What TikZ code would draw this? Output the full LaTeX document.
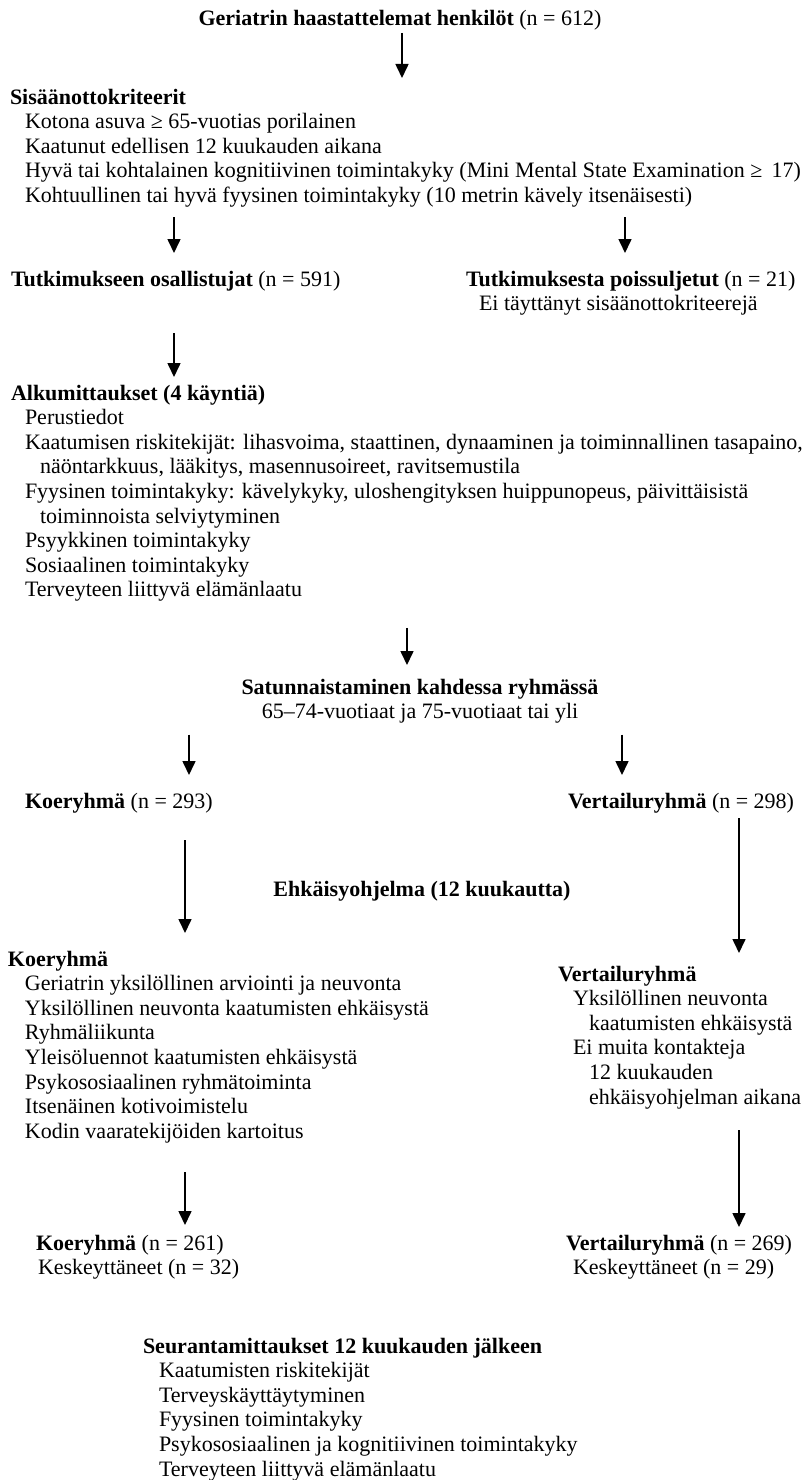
\documentclass[tikz,border=0pt]{standalone}
\usepackage{fontspec}
\setmainfont{Liberation Serif}
\usetikzlibrary{calc,arrows.meta}
% struts that fix the top and bottom of every text block
\newcommand\tp{\rule{0pt}{18pt}}
\newcommand\bt{\rule[-6pt]{0pt}{6pt}}
\newcommand\ind[1]{\hspace*{#1pt}}
% vertical arrow at the column of #5, from #1 (+#2) down to #3 (+#4)
\newcommand\flowarrow[5]{\draw[arr] ($(#1 -| #5)+(0,#2)$) -- ($(#3 -| #5)+(0,#4)$);}

\begin{document}
\begin{tikzpicture}[x=1pt,y=-1pt,
  txt/.style={inner sep=0pt, outer sep=0pt, anchor=north west, align=left,
    font=\fontsize{22}{24.6}\selectfont},
  ctxt/.style={txt, anchor=north, align=center},
  arr/.style={line width=1.6pt, -{Triangle[width=13pt,length=14pt]}}]
\useasboundingbox (0,0) rectangle (803,1480);

% arrow columns
\coordinate (xa) at (402,0);
\coordinate (xb) at (174,0);
\coordinate (xc) at (625,0);
\coordinate (xd) at (407,0);
\coordinate (xe) at (189,0);
\coordinate (xf) at (622,0);
\coordinate (xg) at (185,0);
\coordinate (xh) at (739,0);

\node[ctxt] (title) at (400,8) {\tp\textbf{Geriatrin haastattelemat henkilöt} (n = 612)\bt};

\node[txt] (crit) at (10,86) {\tp\textbf{Sisäänottokriteerit}\\
\ind{15}Kotona asuva ≥ 65-vuotias porilainen\\
\ind{15}Kaatunut edellisen 12 kuukauden aikana\\
\ind{15}Hyvä tai kohtalainen kognitiivinen toimintakyky (Mini Mental State Examination ≥ \,17)\\
\ind{15}Kohtuullinen tai hyvä fyysinen toimintakyky (10 metrin kävely itsenäisesti)\bt};

\node[txt] (tut) at (11,268) {\tp\textbf{Tutkimukseen osallistujat} (n = 591)\bt};
\node[txt] (excl) at (466,268) {\tp\textbf{Tutkimuksesta poissuljetut} (n = 21)\\
\ind{13}Ei täyttänyt sisäänottokriteerejä\bt};

\node[txt] (alk) at (11,382) {\tp\textbf{Alkumittaukset (4 käyntiä)}\\
\ind{14}Perustiedot\\
\ind{14}Kaatumisen riskitekijät: lihasvoima, staattinen, dynaaminen ja toiminnallinen tasapaino,\\
\ind{29}näöntarkkuus, lääkitys, masennusoireet, ravitsemustila\\
\ind{14}Fyysinen toimintakyky: kävelykyky, uloshengityksen huippunopeus, päivittäisistä\\
\ind{29}toiminnoista selviytyminen\\
\ind{14}Psyykkinen toimintakyky\\
\ind{14}Sosiaalinen toimintakyky\\
\ind{14}Terveyteen liittyvä elämänlaatu\bt};

\node[ctxt] (rand) at (420,676) {\tp\textbf{Satunnaistaminen kahdessa ryhmässä}\\
65–74-vuotiaat ja 75-vuotiaat tai yli\bt};

\node[txt] (kg1) at (25,790) {\tp\textbf{Koeryhmä} (n = 293)\bt};
\node[txt] (vg1) at (568,790) {\tp\textbf{Vertailuryhmä} (n = 298)\bt};

\node[ctxt] (ehk) at (422,878) {\tp\textbf{Ehkäisyohjelma (12 kuukautta)}\bt};

\node[txt] (kg2) at (8,948) {\tp\textbf{Koeryhmä}\\
\ind{17}Geriatrin yksilöllinen arviointi ja neuvonta\\
\ind{17}Yksilöllinen neuvonta kaatumisten ehkäisystä\\
\ind{17}Ryhmäliikunta\\
\ind{17}Yleisöluennot kaatumisten ehkäisystä\\
\ind{17}Psykososiaalinen ryhmätoiminta\\
\ind{17}Itsenäinen kotivoimistelu\\
\ind{17}Kodin vaaratekijöiden kartoitus\bt};

\node[txt] (vg2) at (558,963) {\tp\textbf{Vertailuryhmä}\\
\ind{15}Yksilöllinen neuvonta\\
\ind{31}kaatumisten ehkäisystä\\
\ind{15}Ei muita kontakteja\\
\ind{31}12 kuukauden\\
\ind{31}ehkäisyohjelman aikana\bt};

\node[txt] (kg3) at (36,1232) {\tp\textbf{Koeryhmä} (n = 261)\\
\ind{2}Keskeyttäneet (n = 32)\bt};
\node[txt] (vg3) at (566,1232) {\tp\textbf{Vertailuryhmä} (n = 269)\\
\ind{7}Keskeyttäneet (n = 29)\bt};

\node[txt] (seur) at (143,1335) {\tp\textbf{Seurantamittaukset 12 kuukauden jälkeen}\\
\ind{16}Kaatumisten riskitekijät\\
\ind{16}Terveyskäyttäytyminen\\
\ind{16}Fyysinen toimintakyky\\
\ind{16}Psykososiaalinen ja kognitiivinen toimintakyky\\
\ind{16}Terveyteen liittyvä elämänlaatu\bt};

% connectors
\flowarrow{title.south}{1}{crit.north}{-8}{xa}
\flowarrow{crit.south}{8.6}{tut.north}{-15}{xb}
\flowarrow{crit.south}{8.6}{excl.north}{-15}{xc}
\flowarrow{tut.south}{41}{alk.north}{-5}{xb}
\flowarrow{alk.south}{25}{rand.north}{-11}{xd}
\flowarrow{rand.south}{10}{kg1.north}{-15}{xe}
\flowarrow{rand.south}{10}{vg1.north}{-15}{xf}
\flowarrow{kg1.south}{26}{kg2.north}{-15}{xg}
\flowarrow{vg1.south}{4}{vg2.north}{-10}{xh}
\flowarrow{kg2.south}{28}{kg3.north}{-7}{xg}
\flowarrow{vg2.south}{20}{vg3.north}{-5}{xh}
\end{tikzpicture}
\end{document}
